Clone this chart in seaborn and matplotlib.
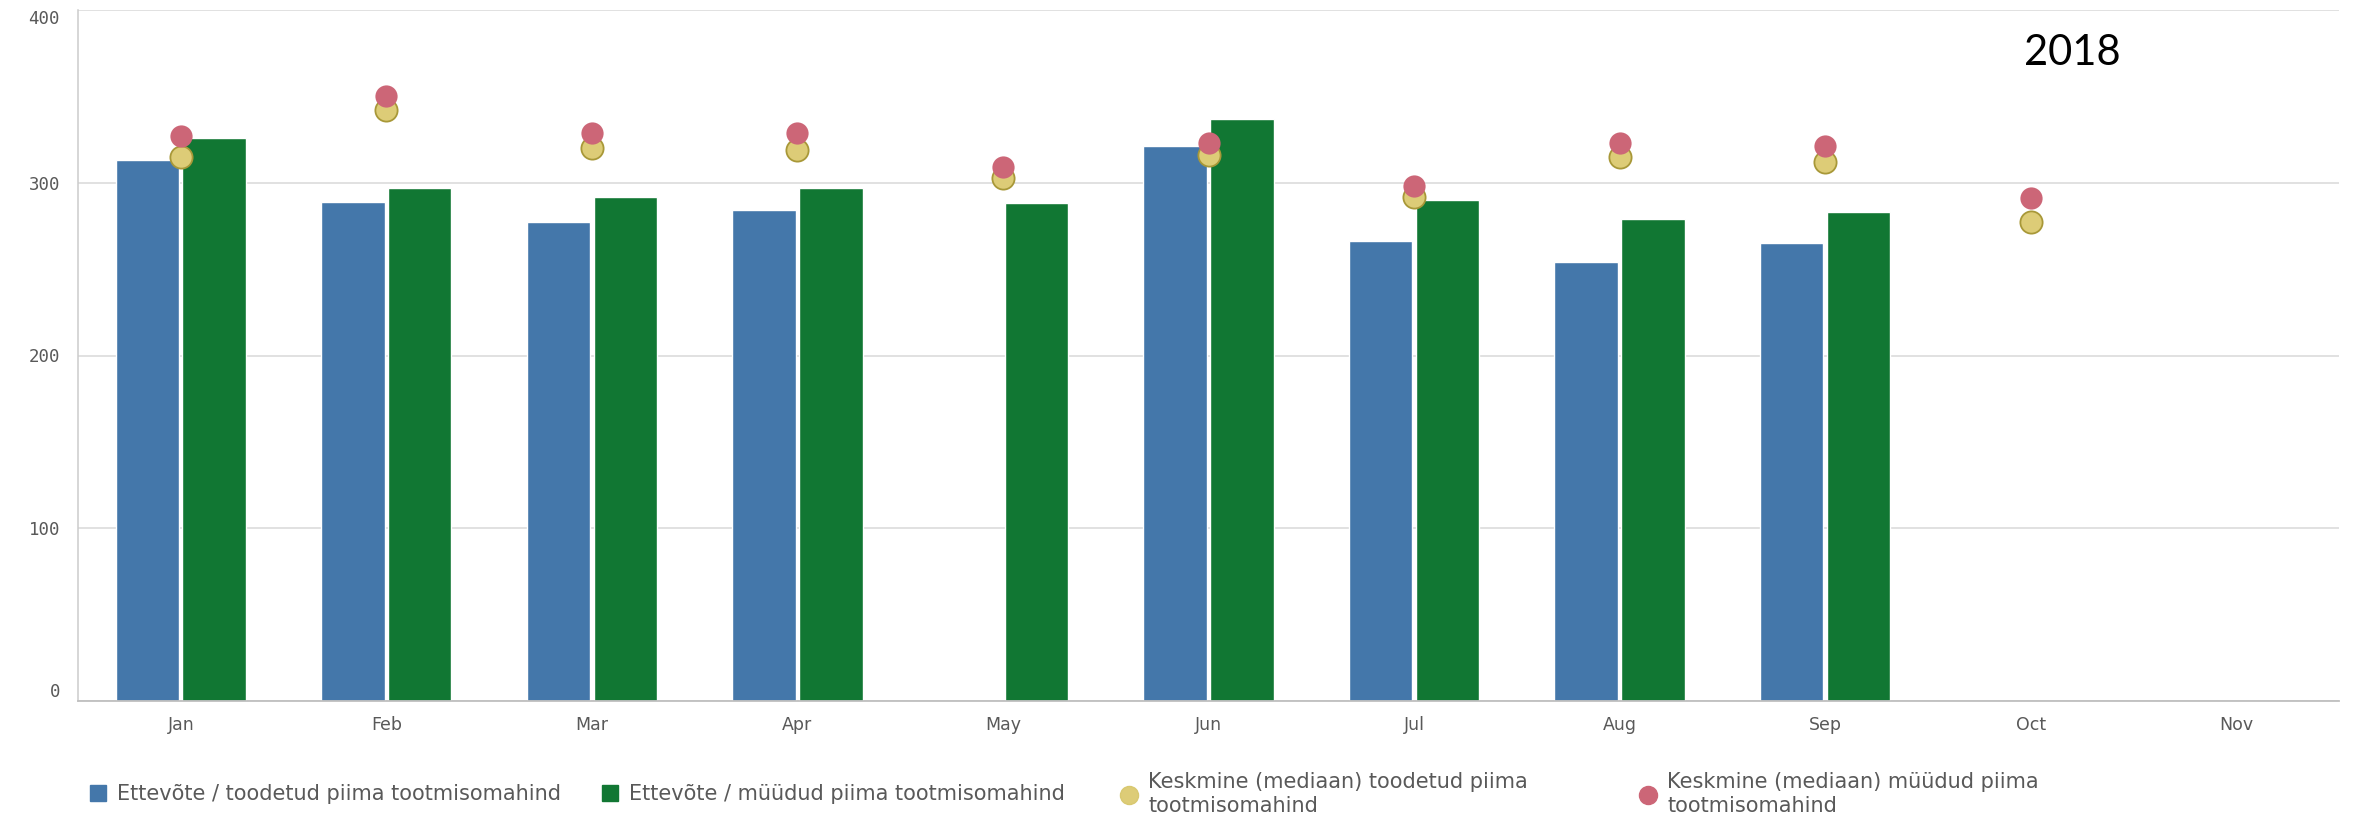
import numpy as np
import pandas as pd
import matplotlib
matplotlib.use("Agg")
import matplotlib.pyplot as plt
from matplotlib.lines import Line2D
import seaborn as sns

# data
months = ["Jan", "Feb", "Mar", "Apr", "May", "Jun", "Jul", "Aug", "Sep", "Oct", "Nov"]
produced = [313, 289, 277, 284, np.nan, 321, 266, 254, 265, np.nan, np.nan]
sold = [326, 297, 292, 297, 288, 337, 290, 279, 283, np.nan, np.nan]
median_produced = [315, 342, 320, 319, 303, 316, 292, 315, 312, 277, np.nan]
median_sold = [327, 350, 329, 329, 309, 323, 298, 323, 321, 291, np.nan]

lbl_produced = "Ettevõte / toodetud piima tootmisomahind"
lbl_sold = "Ettevõte / müüdud piima tootmisomahind"
lbl_med_produced = "Keskmine (mediaan) toodetud piima\ntootmisomahind"
lbl_med_sold = "Keskmine (mediaan) müüdud piima\ntootmisomahind"

c_blue = "#4477aa"
c_green = "#117733"
c_yellow = "#ddcc77"
c_pink = "#cc6677"
c_text = "#595959"
c_grid = "#d9d9d9"

bars = pd.DataFrame({"month": months, lbl_produced: produced, lbl_sold: sold})
bars = bars.melt(id_vars="month", var_name="series", value_name="value")

sns.set_theme(style="white")
plt.rcParams["font.family"] = ["DejaVu Sans"]

fig = plt.figure(figsize=(23.59, 8.19), dpi=100)
ax = fig.add_axes([78 / 2359, 1 - 701 / 819, (2339 - 78) / 2359, (701 - 10) / 819])

sns.barplot(data=bars, x="month", y="value", hue="series", order=months,
            hue_order=[lbl_produced, lbl_sold], palette=[c_blue, c_green],
            saturation=1, width=0.65, gap=0.05, errorbar=None,
            edgecolor="white", linewidth=1, legend=False, ax=ax, zorder=2)

sns.stripplot(x=months, y=median_produced, order=months, jitter=False,
              color=c_yellow, size=16, edgecolor="#a89838", linewidth=1.3,
              ax=ax, zorder=3)
sns.stripplot(x=months, y=median_sold, order=months, jitter=False,
              color=c_pink, size=16, linewidth=0, ax=ax, zorder=4)

ax.set_xlim(-0.5, len(months) - 0.5)
ax.set_ylim(0, 400)
ax.set_yticks([0, 100, 200, 300, 400])
ax.set_xlabel("")
ax.set_ylabel("")
ax.grid(axis="y", color=c_grid, linewidth=1.1, zorder=0)
ax.set_axisbelow(True)
for side in ["top", "right"]:
    ax.spines[side].set_visible(False)
ax.spines["left"].set_color("#cccccc")
ax.spines["bottom"].set_color("#bfbfbf")
ax.spines["left"].set_linewidth(1.1)
ax.spines["bottom"].set_linewidth(1.3)

ax.tick_params(axis="x", length=0, pad=11, labelsize=12.5, labelcolor=c_text)
ax.tick_params(axis="y", length=8, width=1.1, color=c_grid, pad=5,
               labelsize=12.5, labelcolor=c_text)
for t in ax.get_yticklabels():
    t.set_family("DejaVu Sans Mono")
ylabels = ax.get_yticklabels()
ylabels[0].set_va("bottom")
ylabels[-1].set_va("top")

fig.text(2072 / 2359, 1 - 53 / 819, "2018", fontsize=30, family="Lato",
         ha="center", va="center", color="black")

# legend: four equally spaced entries along the bottom
entries = [
    (Line2D([], [], marker="s", linestyle="", markersize=12, color=c_blue), lbl_produced, 88),
    (Line2D([], [], marker="s", linestyle="", markersize=12, color=c_green), lbl_sold, 600),
    (Line2D([], [], marker="o", linestyle="", markersize=13, color=c_yellow,
            markeredgecolor="#d8c870"), lbl_med_produced, 1119),
    (Line2D([], [], marker="o", linestyle="", markersize=13, color=c_pink), lbl_med_sold, 1638),
]
for handle, label, xpix in entries:
    fig.legend(handles=[handle], labels=[label], loc="center left",
               bbox_to_anchor=(xpix / 2359, 1 - 794 / 819), frameon=False,
               fontsize=15, labelcolor=c_text, handlelength=1.0,
               handletextpad=0.4, borderpad=0, borderaxespad=0,
               labelspacing=0.2)

fig.savefig("out.png", dpi=100)
